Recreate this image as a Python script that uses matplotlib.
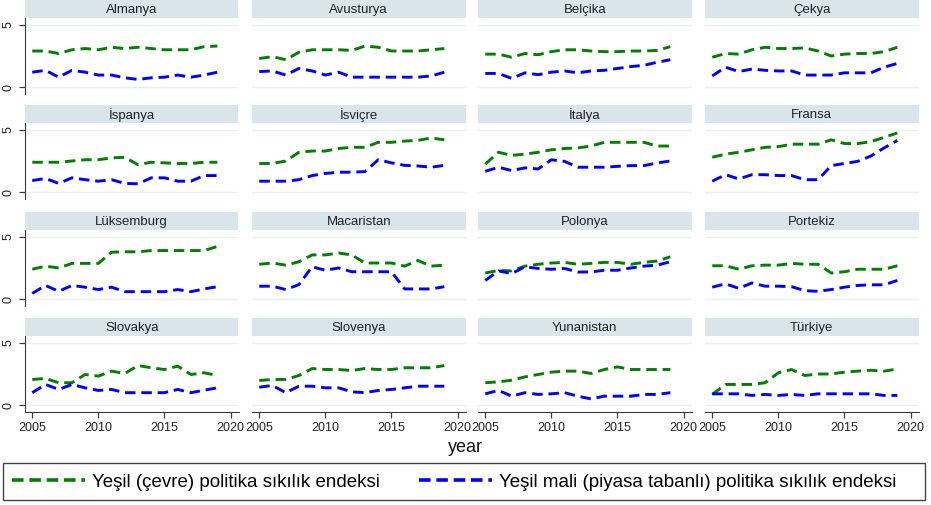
import matplotlib.pyplot as plt
import numpy as np
from matplotlib.lines import Line2D
from matplotlib.patches import Rectangle

plt.rcParams['font.family'] = ['Liberation Sans', 'DejaVu Sans']

years = np.arange(2005, 2020)

countries = ['Almanya', 'Avusturya', 'Belçika', 'Çekya',
             'İspanya', 'İsviçre', 'İtalya', 'Fransa',
             'Lüksemburg', 'Macaristan', 'Polonya', 'Portekiz',
             'Slovakya', 'Slovenya', 'Yunanistan', 'Türkiye']

# green: environmental policy stringency, blue: market based policy stringency
almanya_cevre = [2.9, 2.9, 2.7, 3.0, 3.1, 3.0, 3.2, 3.1, 3.2, 3.1, 3.0, 3.0, 3.0, 3.25, 3.3]
almanya_mali = [1.2, 1.35, 0.8, 1.35, 1.2, 0.97, 0.97, 0.75, 0.62, 0.75, 0.8, 0.97, 0.8, 0.97, 1.2]
avusturya_cevre = [2.3, 2.45, 2.2, 2.8, 3.0, 3.0, 3.0, 2.95, 3.3, 3.2, 2.9, 2.9, 2.9, 3.0, 3.1]
avusturya_mali = [1.25, 1.3, 0.97, 1.5, 1.3, 0.97, 1.2, 0.8, 0.8, 0.8, 0.8, 0.8, 0.8, 0.9, 1.2]
belcika_cevre = [2.65, 2.65, 2.4, 2.7, 2.6, 2.85, 3.0, 3.0, 2.9, 2.85, 2.85, 2.9, 2.9, 2.95, 3.25]
belcika_mali = [1.1, 1.1, 0.7, 1.15, 1.0, 1.2, 1.3, 1.15, 1.3, 1.35, 1.5, 1.65, 1.75, 2.0, 2.2]
cekya_cevre = [2.4, 2.7, 2.65, 3.0, 3.2, 3.1, 3.1, 3.15, 2.9, 2.5, 2.65, 2.7, 2.7, 2.85, 3.2]
cekya_mali = [0.9, 1.6, 1.25, 1.45, 1.35, 1.3, 1.3, 0.97, 0.97, 0.97, 1.15, 1.15, 1.15, 1.6, 1.9]

ispanya_cevre = [2.4, 2.4, 2.4, 2.5, 2.6, 2.6, 2.75, 2.8, 2.2, 2.4, 2.35, 2.3, 2.3, 2.4, 2.4]
ispanya_mali = [0.93, 1.1, 0.7, 1.15, 1.0, 0.88, 1.0, 0.7, 0.67, 1.15, 1.15, 0.88, 0.88, 1.33, 1.33]
isvicre_cevre = [2.3, 2.3, 2.5, 3.2, 3.3, 3.3, 3.5, 3.6, 3.6, 4.0, 4.0, 4.1, 4.15, 4.35, 4.2]
isvicre_mali = [0.88, 0.88, 0.88, 1.0, 1.33, 1.5, 1.6, 1.6, 1.65, 2.6, 2.35, 2.15, 2.1, 2.0, 2.15]
italya_cevre = [2.25, 3.2, 2.95, 3.05, 3.2, 3.4, 3.5, 3.55, 3.7, 4.0, 4.0, 4.0, 4.0, 3.7, 3.7]
italya_mali = [1.67, 2.0, 1.73, 1.95, 1.86, 2.6, 2.47, 2.0, 2.0, 2.0, 2.07, 2.13, 2.13, 2.34, 2.5]
fransa_cevre = [2.8, 3.05, 3.2, 3.4, 3.6, 3.65, 3.85, 3.85, 3.85, 4.2, 3.9, 3.9, 4.05, 4.4, 4.75]
fransa_mali = [0.88, 1.4, 1.06, 1.4, 1.4, 1.33, 1.33, 1.0, 1.0, 2.13, 2.3, 2.47, 2.9, 3.55, 4.15]

luksemburg_cevre = [2.4, 2.65, 2.5, 2.87, 2.87, 2.87, 3.77, 3.8, 3.8, 3.9, 3.9, 3.9, 3.9, 3.9, 4.23]
luksemburg_mali = [0.46, 1.1, 0.63, 1.1, 0.96, 0.77, 0.96, 0.6, 0.6, 0.6, 0.6, 0.77, 0.6, 0.82, 1.0]
macaristan_cevre = [2.8, 2.9, 2.73, 3.0, 3.55, 3.55, 3.7, 3.55, 2.9, 2.9, 2.9, 2.65, 3.1, 2.65, 2.73]
macaristan_mali = [1.04, 1.04, 0.77, 1.17, 2.6, 2.32, 2.5, 2.2, 2.2, 2.2, 2.2, 0.82, 0.82, 0.82, 1.0]
polonya_cevre = [2.1, 2.3, 2.27, 2.65, 2.8, 2.9, 2.95, 2.8, 2.87, 2.95, 2.95, 2.8, 2.95, 3.06, 3.4]
polonya_mali = [1.5, 2.27, 2.05, 2.6, 2.46, 2.4, 2.46, 2.18, 2.18, 2.32, 2.32, 2.5, 2.65, 2.73, 3.0]
portekiz_cevre = [2.68, 2.68, 2.4, 2.68, 2.73, 2.73, 2.87, 2.8, 2.8, 2.1, 2.2, 2.4, 2.4, 2.4, 2.68]
portekiz_mali = [0.96, 1.23, 0.87, 1.3, 1.04, 1.04, 1.0, 0.68, 0.63, 0.77, 0.96, 1.1, 1.15, 1.15, 1.5]

slovakya_cevre = [2.06, 2.14, 1.8, 1.8, 2.46, 2.33, 2.73, 2.54, 3.18, 3.0, 2.86, 3.13, 2.46, 2.6, 2.38]
slovakya_mali = [1.0, 1.66, 1.26, 1.66, 1.39, 1.18, 1.26, 1.0, 1.0, 1.0, 1.0, 1.26, 1.0, 1.2, 1.39]
slovenya_cevre = [1.98, 2.06, 2.06, 2.38, 2.94, 2.86, 2.86, 2.78, 2.94, 2.86, 2.86, 3.0, 3.0, 3.0, 3.18]
slovenya_mali = [1.44, 1.58, 1.0, 1.52, 1.52, 1.39, 1.39, 1.07, 1.0, 1.18, 1.26, 1.39, 1.52, 1.52, 1.52]
yunanistan_cevre = [1.8, 1.87, 2.0, 2.27, 2.46, 2.65, 2.73, 2.73, 2.54, 2.86, 3.07, 2.86, 2.86, 2.86, 2.86]
yunanistan_mali = [0.91, 1.18, 0.72, 1.0, 0.86, 0.91, 1.0, 0.72, 0.5, 0.72, 0.72, 0.72, 0.86, 0.86, 1.0]
turkiye_cevre = [0.86, 1.66, 1.66, 1.66, 1.8, 2.6, 2.86, 2.38, 2.5, 2.5, 2.65, 2.73, 2.8, 2.73, 2.9]
turkiye_mali = [0.91, 0.91, 0.91, 0.78, 0.86, 0.78, 0.86, 0.78, 0.91, 0.91, 0.91, 0.91, 0.91, 0.78, 0.78]

cevre = [almanya_cevre, avusturya_cevre, belcika_cevre, cekya_cevre,
         ispanya_cevre, isvicre_cevre, italya_cevre, fransa_cevre,
         luksemburg_cevre, macaristan_cevre, polonya_cevre, portekiz_cevre,
         slovakya_cevre, slovenya_cevre, yunanistan_cevre, turkiye_cevre]
mali = [almanya_mali, avusturya_mali, belcika_mali, cekya_mali,
        ispanya_mali, isvicre_mali, italya_mali, fransa_mali,
        luksemburg_mali, macaristan_mali, polonya_mali, portekiz_mali,
        slovakya_mali, slovenya_mali, yunanistan_mali, turkiye_mali]

legend_labels = ['Yeşil (çevre) politika sıkılık endeksi',
                 'Yeşil mali (piyasa tabanlı) politika sıkılık endeksi']

W, H = 931, 505
fig = plt.figure(figsize=(W / 100, H / 100), dpi=100)
fig.patch.set_facecolor('white')

col_left = [25, 252, 478, 705]
col_w = 213.5
plot_top = [18, 123, 230, 336]
plot_h = 76
title_h = 18

green = '#008000'
blue = '#0000ff'
axis_col = '#3c3c3c'
strip_col = '#d9e5eb'
grid_col = '#e8f0f2'
dash = (3.6, 2.0)


def px_rect(x, top, w, h):
    return [x / W, 1 - (top + h) / H, w / W, h / H]


for i, name in enumerate(countries):
    r, c = divmod(i, 4)
    ax = fig.add_axes(px_rect(col_left[c], plot_top[r], col_w, plot_h))
    ax.plot(years, cevre[i], color=green, lw=2.1, dashes=dash, dash_capstyle='butt')
    ax.plot(years, mali[i], color=blue, lw=2.1, dashes=dash, dash_capstyle='butt')
    ax.set_xlim(2004.45, 2020.6)
    ax.set_ylim(-0.55, 5.55)
    for yv in (0, 5):
        ax.axhline(yv, color=grid_col, lw=1.0, zorder=0)
    for s in ax.spines.values():
        s.set_visible(False)
    ax.set_yticks([0, 5])
    ax.set_xticks([2005, 2010, 2015, 2020])
    ax.tick_params(colors=axis_col, labelcolor='#222222', labelsize=9, length=4, width=0.9)
    if c == 0:
        ax.spines['left'].set_visible(True)
        ax.spines['left'].set_color(axis_col)
        ax.set_yticklabels(['0', '5'], rotation=90, va='center')
    else:
        ax.tick_params(axis='y', left=False, labelleft=False)
    if r == 3:
        ax.spines['bottom'].set_visible(True)
        ax.spines['bottom'].set_color(axis_col)
    else:
        ax.tick_params(axis='x', bottom=False, labelbottom=False)

    # title strip above each panel
    st = fig.add_axes(px_rect(col_left[c], plot_top[r] - title_h, col_w, title_h))
    st.set_facecolor(strip_col)
    st.set_xticks([])
    st.set_yticks([])
    for s in st.spines.values():
        s.set_visible(False)
    st.text(0.5, 0.45, name, ha='center', va='center', fontsize=9.5, color='#222222',
            transform=st.transAxes)

fig.text(465 / W, 1 - 447 / H, 'year', ha='center', va='center', fontsize=13, color='#111111')

handles = [Line2D([], [], color=green, lw=2.6, dashes=(3.2, 1.6)),
           Line2D([], [], color=blue, lw=2.6, dashes=(3.2, 1.6))]
leg = fig.legend(handles, legend_labels, loc='lower left', ncol=2,
                 bbox_to_anchor=(3 / W, 5 / H),
                 frameon=False, fontsize=13.5,
                 handlelength=3.85, handletextpad=0.4, columnspacing=2.1,
                 borderaxespad=0.0, borderpad=0.5)

# legend box spans the full figure width
fig.patches.append(Rectangle((3 / W, 5 / H), 922 / W, 37 / H, transform=fig.transFigure,
                             fill=False, edgecolor='#444444', linewidth=1.0))

fig.savefig('out.png', dpi=100)
